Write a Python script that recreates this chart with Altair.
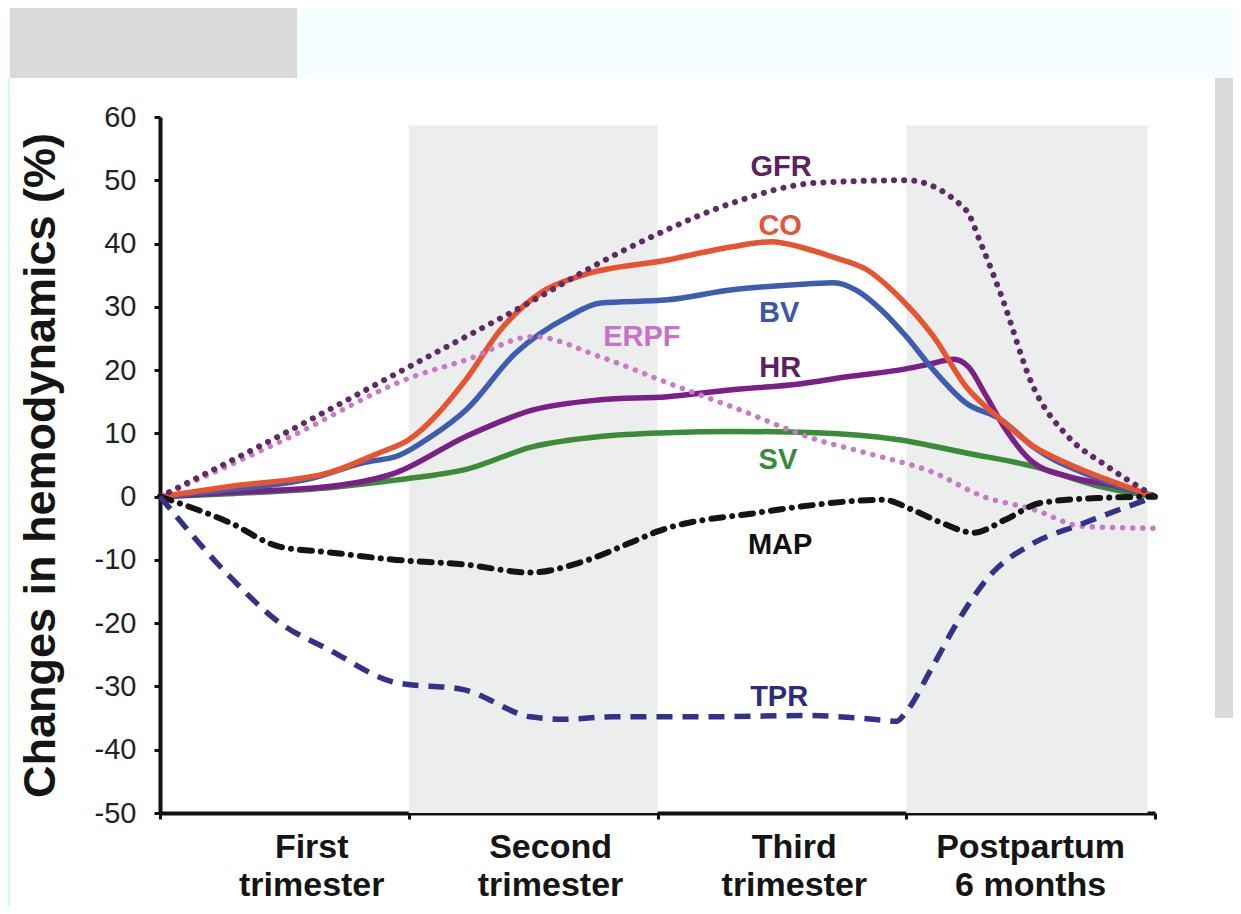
import altair as alt
import pandas as pd

# ---- data (x: 0 = conception; 1 unit per period: 1st, 2nd, 3rd trimester, postpartum) ----
GFR_X = [0, 0.5, 1.0, 1.5, 1.77, 2.0, 2.3, 2.64, 3.0, 3.24, 3.3, 3.38, 3.51, 3.65, 3.8, 4.0]
GFR_Y = [0, 10, 20.5, 31, 37, 41.5, 46.4, 49.6, 50, 45.3, 40, 32, 17.4, 9.5, 5, 0]

CO_X = [0, 0.28, 0.68, 0.88, 1.0, 1.23, 1.37, 1.53, 1.7, 2.04, 2.3, 2.46, 2.57, 2.71, 2.84, 2.97, 3.11, 3.24, 3.38, 3.51, 3.65, 3.8, 4.0]
CO_Y = [0, 1.6, 3.8, 6.9, 9.0, 18.5, 26.4, 32.2, 35, 37.4, 39.5, 40.3, 39.5, 37.8, 35.9, 31.6, 25.3, 17.4, 12.2, 8.0, 5.2, 2.8, 0]

BV_X = [0, 0.3, 0.6, 0.82, 0.96, 1.09, 1.23, 1.43, 1.64, 1.77, 2.04, 2.3, 2.6, 2.71, 2.8, 2.9, 3.0, 3.11, 3.24, 3.38, 3.51, 3.78, 4.0]
BV_Y = [0, 1.2, 2.8, 5.4, 6.5, 9.5, 13.7, 22.7, 28.4, 30.6, 31.1, 32.7, 33.6, 33.8, 32.6, 29.5, 25.3, 20, 14.8, 12.2, 7.9, 2.7, 0]

HR_X = [0, 0.3, 0.68, 0.95, 1.23, 1.5, 1.77, 2.04, 2.3, 2.57, 2.77, 2.97, 3.1, 3.19, 3.25, 3.32, 3.40, 3.51, 3.65, 3.85, 4.0]
HR_Y = [0, 0.7, 1.6, 3.8, 9.5, 13.7, 15.3, 15.8, 16.9, 17.8, 19, 20, 21.0, 21.7, 20.5, 16, 10.6, 5.4, 3.2, 1.6, 0]

SV_X = [0, 0.3, 0.7, 0.965, 1.23, 1.5, 1.77, 2.04, 2.3, 2.64, 2.97, 3.24, 3.51, 3.78, 4.0]
SV_Y = [0, 0.5, 1.5, 2.7, 4.3, 7.9, 9.5, 10.1, 10.3, 10.1, 9, 6.9, 4.8, 1.6, 0]

ERPF_X = [0, 0.5, 1.02, 1.23, 1.5, 1.77, 2.04, 2.3, 2.64, 2.84, 3.11, 3.31, 3.51, 3.71, 4.0]
ERPF_Y = [0, 9, 19, 21.6, 25.3, 22.1, 18, 14.2, 9, 6.9, 3.8, 0, -2, -4.7, -5]

MAP_X = [0, 0.28, 0.48, 0.68, 0.95, 1.22, 1.49, 1.69, 1.89, 2.0, 2.41, 2.57, 2.91, 3.02, 3.14, 3.27, 3.40, 3.54, 3.78, 4.0]
MAP_Y = [0, -4.1, -7.9, -8.8, -10, -10.7, -12, -10.4, -7.3, -5.5, -2.5, -1.6, -0.5, -2, -4.1, -5.7, -3.6, -1, -0.2, 0]

TPR_X = [0, 0.28, 0.48, 0.68, 0.95, 1.22, 1.49, 1.62, 1.82, 2.2, 2.6, 2.9, 2.96, 3.0, 3.1, 3.2, 3.34, 3.5, 3.7, 3.86, 4.0]
TPR_Y = [0, -12.6, -19.9, -24.2, -29.4, -30.5, -34.8, -35.2, -34.8, -34.8, -34.6, -35.3, -35.5, -34, -27.3, -20.2, -12.3, -7.6, -4.4, -2, 0]

SERIES_NAMES = ["GFR", "CO", "BV", "ERPF", "HR", "SV", "MAP", "TPR"]
LABEL_X = [2.497, 2.493, 2.489, 1.937, 2.493, 2.484, 2.493, 2.489]
LABEL_Y = [52.1, 42.7, 29.0, 25.3, 20.4, 5.8, -7.6, -31.6]
LABEL_COLORS = ["#5b2262", "#e2553a", "#3c56a8", "#c672c6", "#5e1f62", "#3a8a3a", "#111111", "#2f2a7a"]

PERIOD_LINE1 = ["First", "Second", "Third", "Postpartum"]
PERIOD_LINE2 = ["trimester", "trimester", "trimester", "6 months"]
PERIOD_X = [0.61, 1.57, 2.55, 3.5]

BAND_START = [1.0, 3.0]
BAND_END = [2.0, 3.97]
BAND_BOTTOM = [-50, -50]
BAND_TOP = [58.7, 58.7]

Y_TICKS = [-50, -40, -30, -20, -10, 0, 10, 20, 30, 40, 50, 60]
X_TICKS = [0, 1, 2, 3, 4]

FONT = "Liberation Sans"

xs = alt.Scale(domain=[0, 4], nice=False, zero=False)
ys = alt.Scale(domain=[-50, 60], nice=False, zero=False)

xaxis = alt.Axis(values=X_TICKS, labels=False, title=None, grid=False,
                 domainColor="#111", domainWidth=4, tickColor="#111",
                 tickWidth=3, tickSize=6)
yaxis = alt.Axis(values=Y_TICKS, title="Changes in hemodynamics (%)", grid=False,
                 labelExpr="'' + datum.value",
                 domainColor="#111", domainWidth=4, tickColor="#111",
                 tickWidth=3, tickSize=6, labelPadding=18,
                 labelFont=FONT, labelFontSize=29, labelColor="#222",
                 titleFont=FONT, titleFontSize=45, titleFontWeight="bold",
                 titleColor="#151515", titleAngle=270, titleX=-120, titleY=348,
                 titleAlign="center", titleBaseline="middle")

one = pd.DataFrame({"k": [0]})


def deco(x1, x2, y1, y2, color):
    return alt.Chart(one).mark_rect(color=color, opacity=1).encode(
        x=alt.value(x1), x2=alt.value(x2), y=alt.value(y1), y2=alt.value(y2))


decorations = [
    deco(-152, 1073, -109, -39, "#f4fefe"),
    deco(-150, 137, -109, -39, "#d9d9d9"),
    deco(1055, 1073, -39, 601, "#d9d9d9"),
    deco(-152, -150, -39, 789, "#cdfcfc"),
]

bands_df = pd.DataFrame({"x": BAND_START, "x2": BAND_END, "y": BAND_BOTTOM, "y2": BAND_TOP})
bands = alt.Chart(bands_df).mark_rect(color="#eceeee").encode(
    x=alt.X("x:Q", scale=xs, axis=xaxis), x2="x2:Q",
    y=alt.Y("y:Q", scale=ys, axis=yaxis), y2="y2:Q")


def line(xv, yv, color, width, dash=None, cap="butt"):
    df = pd.DataFrame({"x": xv, "y": yv})
    kw = dict(interpolate="monotone", color=color, strokeWidth=width, strokeCap=cap, clip=False)
    if dash is not None:
        kw["strokeDash"] = dash
    return alt.Chart(df).mark_line(**kw).encode(
        x=alt.X("x:Q", scale=xs, axis=xaxis),
        y=alt.Y("y:Q", scale=ys, axis=yaxis),
        order=alt.Order("x:Q"))


lines = [
    line(SV_X, SV_Y, "#3b8b38", 5.5),
    line(HR_X, HR_Y, "#7a2086", 5.5),
    line(BV_X, BV_Y, "#3f5db0", 5.5),
    line(CO_X, CO_Y, "#e6552f", 5.5),
    line(ERPF_X, ERPF_Y, "#c87bc5", 5.5, [0.1, 10], "round"),
    line(GFR_X, GFR_Y, "#5f2a66", 6, [0.1, 10], "round"),
    line(MAP_X, MAP_Y, "#141414", 6, [12, 9, 0.1, 9], "round"),
    line(TPR_X, TPR_Y, "#35318a", 5.5, [16, 10]),
]

labels_df = pd.DataFrame({"x": LABEL_X, "y": LABEL_Y, "t": SERIES_NAMES, "c": LABEL_COLORS})
labels = alt.Chart(labels_df).mark_text(font=FONT, fontSize=29, fontWeight="bold",
                                        align="center", baseline="middle").encode(
    x=alt.X("x:Q", scale=xs, axis=xaxis),
    y=alt.Y("y:Q", scale=ys, axis=yaxis),
    text="t:N",
    color=alt.Color("c:N", scale=None))

per_df = pd.DataFrame({"x": PERIOD_X, "l1": PERIOD_LINE1, "l2": PERIOD_LINE2})
per1 = alt.Chart(per_df).mark_text(font=FONT, fontSize=34, fontWeight="bold", color="#151515",
                                   align="center", baseline="middle").encode(
    x=alt.X("x:Q", scale=xs, axis=xaxis), y=alt.value(731), text="l1:N")
per2 = alt.Chart(per_df).mark_text(font=FONT, fontSize=34, fontWeight="bold", color="#151515",
                                   align="center", baseline="middle").encode(
    x=alt.X("x:Q", scale=xs, axis=xaxis), y=alt.value(769), text="l2:N")

chart = alt.layer(*decorations, bands, *lines, labels, per1, per2).properties(
    width=995, height=696,
    autosize=alt.AutoSizeParams(type="none"),
    padding={"left": 152, "top": 109, "right": 78, "bottom": 93},
    background="white",
).configure_view(stroke=None)

chart.save("out.html", embed_options={"renderer": "svg", "actions": False})
